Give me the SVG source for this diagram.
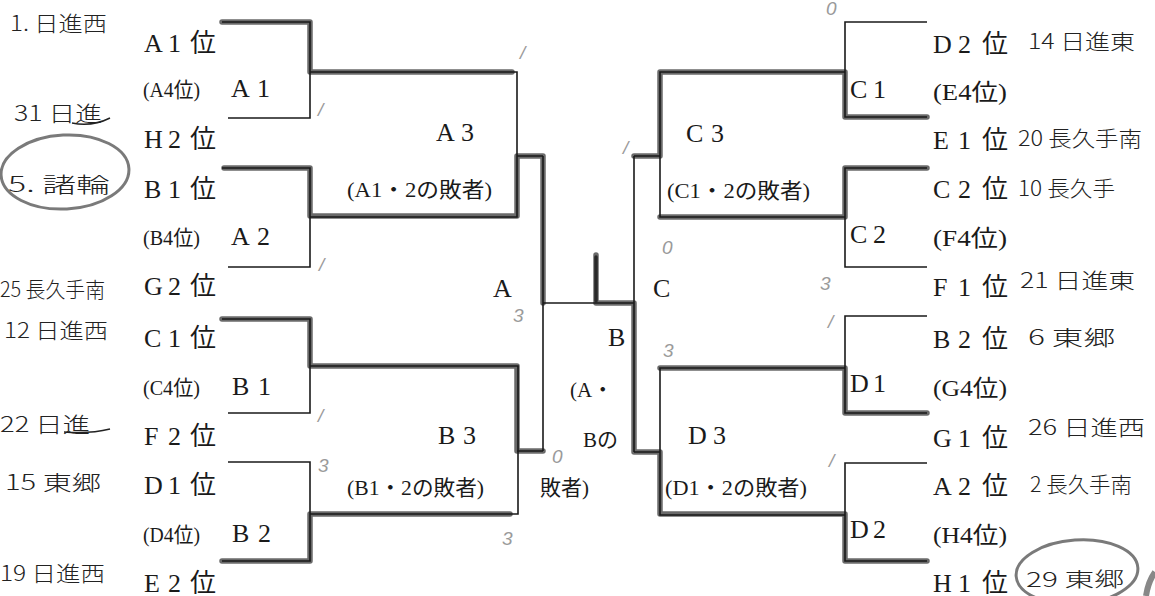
<svg xmlns="http://www.w3.org/2000/svg" width="1155" height="596" viewBox="0 0 1155 596">
<style>
.ln{fill:none;stroke:#1a1a1a;stroke-width:1.6;stroke-linejoin:miter}
.hl{fill:none;stroke:#5a5a5a;stroke-width:5.5;stroke-linejoin:round;stroke-linecap:round;opacity:0.9}
.t{font-family:"Liberation Serif","Noto Sans CJK JP",serif;font-size:26px;fill:#1a1a1a}
.p{font-family:"Liberation Serif","Noto Sans CJK JP",serif;font-size:21px;fill:#1a1a1a}
.q{font-family:"Liberation Serif","Noto Sans CJK JP",serif;font-size:23px;fill:#1a1a1a}
.h{font-family:"Noto Sans CJK JP",sans-serif;font-size:21px;font-weight:300;fill:#222}
.s{font-family:"Liberation Sans",sans-serif;font-size:19px;font-style:italic;fill:#9a9a9a}
.c{fill:none;stroke:#7a7a7a;stroke-width:3}
</style>

<!-- highlighted winner paths -->
<g id="highlights">
<path class="hl" d="M222,22 H310 V72 H512"/>
<path class="hl" d="M224,168 H310 V216 H517 V156 H543 V303"/>
<path class="hl" d="M222,319 H310 V366 H517 V451 H543"/>
<path class="hl" d="M222,561 H310 V514 H510"/>
<path class="hl" d="M596,255 V303 H634 V452 H660 V514 H845 V561 H927"/>
<path class="hl" d="M634,156 H660 V72 H845 V117 H927"/>
<path class="hl" d="M660,217 H845 V168 H927"/>
<path class="hl" d="M660,368 H845 V413 H927"/>
</g>

<!-- left first round -->
<g id="A1"><path class="ln" d="M222,22 H310 V118 H228"/><text class="t" x="231 257" y="97">A1</text></g>
<g id="A2"><path class="ln" d="M222,168 H310 V267 H228"/><text class="t" x="231 257" y="245">A2</text></g>
<g id="B1"><path class="ln" d="M222,319 H310 V413 H228"/><text class="t" x="232 258" y="395">B1</text></g>
<g id="B2"><path class="ln" d="M228,462 H310 V561 H222"/><text class="t" x="232 258" y="542">B2</text></g>

<!-- left second round -->
<g id="A3"><path class="ln" d="M310,72 H517 V217 H310"/><text class="t" x="436 461" y="141">A3</text><text class="p" x="347" y="197" textLength="145" lengthAdjust="spacingAndGlyphs">(A1・2の敗者)</text></g>
<g id="B3"><path class="ln" d="M310,366 H518 V514 H310"/><text class="t" x="438 463" y="444">B3</text><text class="p" x="347" y="495" textLength="137" lengthAdjust="spacingAndGlyphs">(B1・2の敗者)</text></g>

<!-- central -->
<g id="B"><path class="ln" d="M543,156 V451 M634,156 V452 M543,303 H634"/><path class="hl" d="M596,257 V301" style="stroke:#222;stroke-width:3.5"/>
<text class="t" x="493" y="297">A</text><text class="t" x="653" y="297">C</text><text class="t" x="608" y="346">B</text>
<text class="p" x="570" y="397">(A・</text><text class="p" x="583" y="447">Bの</text><text class="p" x="540" y="495">敗者)</text></g>

<!-- right second round -->
<g id="C3"><path class="ln" d="M845,72 H660 V217 H845"/><text class="t" x="686 711" y="142">C3</text><text class="p" x="667" y="198" textLength="143" lengthAdjust="spacingAndGlyphs">(C1・2の敗者)</text></g>
<g id="D3"><path class="ln" d="M845,368 H660 V515 H845"/><text class="t" x="688 713" y="444">D3</text><text class="p" x="665" y="495" textLength="142" lengthAdjust="spacingAndGlyphs">(D1・2の敗者)</text></g>

<!-- right first round -->
<g id="C1"><path class="ln" d="M927,22 H845 V117 H927"/><text class="t" x="850 873" y="98">C1</text></g>
<g id="C2"><path class="ln" d="M927,168 H845 V267 H927"/><text class="t" x="850 873" y="243">C2</text></g>
<g id="D1"><path class="ln" d="M927,316 H845 V413 H927"/><text class="t" x="850 873" y="392">D1</text></g>
<g id="D2"><path class="ln" d="M927,463 H845 V561 H927"/><text class="t" x="850 873" y="538">D2</text></g>

<!-- connectors -->
<g id="connectors">
<path class="ln" d="M517,156 H543 M517,451 H543 M634,156 H660 M634,452 H660"/>
</g>

<!-- left seeds -->
<g id="seeds-left">
<text class="t" x="144 168 190" y="52">A1位</text>
<text class="p" x="143" y="97" textLength="57" lengthAdjust="spacingAndGlyphs">(A4位)</text>
<text class="t" x="144 168 190" y="148">H2位</text>
<text class="t" x="144 168 190" y="198">B1位</text>
<text class="p" x="143" y="245" textLength="57" lengthAdjust="spacingAndGlyphs">(B4位)</text>
<text class="t" x="144 168 190" y="295">G2位</text>
<text class="t" x="144 168 190" y="347">C1位</text>
<text class="p" x="143" y="395" textLength="57" lengthAdjust="spacingAndGlyphs">(C4位)</text>
<text class="t" x="144 168 190" y="445">F2位</text>
<text class="t" x="144 168 190" y="494">D1位</text>
<text class="p" x="143" y="542" textLength="57" lengthAdjust="spacingAndGlyphs">(D4位)</text>
<text class="t" x="144 168 190" y="592">E2位</text>
</g>

<!-- right seeds -->
<g id="seeds-right">
<text class="t" x="933 958 982" y="53">D2位</text>
<text class="q" x="933" y="100" textLength="74" lengthAdjust="spacingAndGlyphs">(E4位)</text>
<text class="t" x="933 958 982" y="149">E1位</text>
<text class="t" x="933 958 982" y="198">C2位</text>
<text class="q" x="933" y="246" textLength="74" lengthAdjust="spacingAndGlyphs">(F4位)</text>
<text class="t" x="933 958 982" y="296">F1位</text>
<text class="t" x="933 958 982" y="348">B2位</text>
<text class="q" x="933" y="396" textLength="74" lengthAdjust="spacingAndGlyphs">(G4位)</text>
<text class="t" x="933 958 982" y="447">G1位</text>
<text class="t" x="933 958 982" y="495">A2位</text>
<text class="q" x="933" y="543" textLength="74" lengthAdjust="spacingAndGlyphs">(H4位)</text>
<text class="t" x="933 958 982" y="592">H1位</text>
</g>

<!-- handwritten team notes -->
<g id="notes">
<text class="h" x="10" y="31" textLength="97" lengthAdjust="spacingAndGlyphs">1. 日進西</text>
<text class="h" x="14" y="121" textLength="88" lengthAdjust="spacingAndGlyphs">31 日進</text>
<path d="M72,123 Q92,127 110,118" fill="none" stroke="#222" stroke-width="1.5"/>
<ellipse class="c" cx="65" cy="172" rx="64" ry="37" transform="rotate(-3 65 172)"/>
<text class="h" x="8" y="192" textLength="102" lengthAdjust="spacingAndGlyphs">5. 諸輪</text>
<text class="h" x="0" y="297" textLength="105" lengthAdjust="spacingAndGlyphs">25 長久手南</text>
<text class="h" x="4" y="338" textLength="104" lengthAdjust="spacingAndGlyphs">12 日進西</text>
<text class="h" x="0" y="432" textLength="90" lengthAdjust="spacingAndGlyphs">22 日進</text>
<path d="M64,432 Q90,434 110,429" fill="none" stroke="#222" stroke-width="1.5"/>
<text class="h" x="5" y="490" textLength="96" lengthAdjust="spacingAndGlyphs">15 東郷</text>
<text class="h" x="0" y="581" textLength="105" lengthAdjust="spacingAndGlyphs">19 日進西</text>

<text class="h" x="1028" y="49" textLength="107" lengthAdjust="spacingAndGlyphs">14 日進東</text>
<text class="h" x="1018" y="146" textLength="124" lengthAdjust="spacingAndGlyphs">20 長久手南</text>
<text class="h" x="1018" y="196" textLength="97" lengthAdjust="spacingAndGlyphs">10 長久手</text>
<text class="h" x="1020" y="288" textLength="115" lengthAdjust="spacingAndGlyphs">21 日進東</text>
<text class="h" x="1028" y="345" textLength="87" lengthAdjust="spacingAndGlyphs">6 東郷</text>
<text class="h" x="1028" y="435" textLength="117" lengthAdjust="spacingAndGlyphs">26 日進西</text>
<text class="h" x="1030" y="492" textLength="102" lengthAdjust="spacingAndGlyphs">2 長久手南</text>
<ellipse class="c" cx="1077" cy="572" rx="61" ry="32" transform="rotate(-4 1077 572)"/>
<text class="h" x="1026" y="587" style="font-size:20px" textLength="98" lengthAdjust="spacingAndGlyphs">29 東郷</text>
<path d="M1146,596 Q1148,582 1155,572" fill="none" stroke="#888" stroke-width="6"/>
</g>

<!-- handwritten scores -->
<g id="scores">
<text class="s" x="318" y="116">/</text>
<text class="s" x="319" y="271">/</text>
<text class="s" x="520" y="59">/</text>
<text class="s" x="513" y="322">3</text>
<text class="s" x="318" y="422">/</text>
<text class="s" x="318" y="472">3</text>
<text class="s" x="552" y="463">0</text>
<text class="s" x="502" y="545">3</text>
<text class="s" x="826" y="15">0</text>
<text class="s" x="623" y="154">/</text>
<text class="s" x="662" y="254">0</text>
<text class="s" x="820" y="290">3</text>
<text class="s" x="663" y="357">3</text>
<text class="s" x="828" y="328">/</text>
<text class="s" x="829" y="467">/</text>
</g>
</svg>
